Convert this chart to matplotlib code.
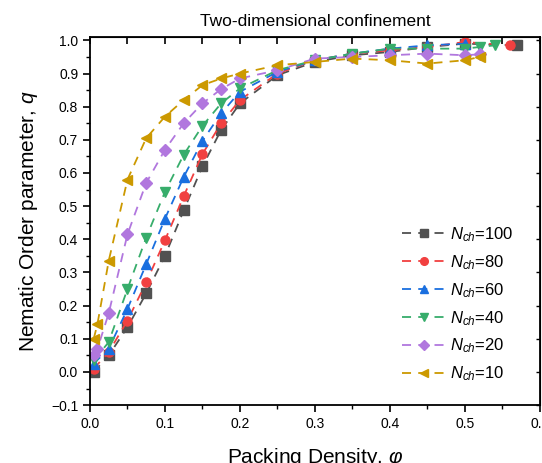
import matplotlib
matplotlib.use("Agg")
import matplotlib.pyplot as plt
from matplotlib.ticker import MultipleLocator, NullFormatter

plt.rcParams['font.family'] = ['Liberation Sans', 'DejaVu Sans']
plt.rcParams['mathtext.fontset'] = 'custom'
plt.rcParams['mathtext.rm'] = 'Liberation Sans'
plt.rcParams['mathtext.it'] = 'Liberation Sans:italic'

labels = ["100", "80", "60", "40", "20", "10"]
colors = ["#515151", "#F14040", "#1A6FDF", "#37AD6B", "#B177DE", "#CC9900"]
markers = ["s", "o", "^", "v", "D", "<"]

x_100 = [0.005, 0.025, 0.05, 0.075, 0.1, 0.125, 0.15, 0.175, 0.2, 0.25, 0.3, 0.35, 0.4, 0.45, 0.5, 0.57]
q_100 = [0.0, 0.05, 0.135, 0.237, 0.35, 0.487, 0.62, 0.73, 0.81, 0.895, 0.935, 0.955, 0.965, 0.98, 0.99, 0.985]

x_80 = [0.005, 0.025, 0.05, 0.075, 0.1, 0.125, 0.15, 0.175, 0.2, 0.25, 0.3, 0.35, 0.4, 0.45, 0.5, 0.56]
q_80 = [0.01, 0.06, 0.155, 0.27, 0.397, 0.53, 0.657, 0.75, 0.82, 0.9, 0.94, 0.96, 0.97, 0.98, 0.995, 0.985]

x_60 = [0.005, 0.025, 0.05, 0.075, 0.1, 0.125, 0.15, 0.175, 0.2, 0.25, 0.3, 0.35, 0.4, 0.45, 0.5]
q_60 = [0.025, 0.07, 0.19, 0.325, 0.462, 0.588, 0.697, 0.78, 0.845, 0.905, 0.94, 0.96, 0.975, 0.985, 0.99]

x_40 = [0.005, 0.025, 0.05, 0.075, 0.1, 0.125, 0.15, 0.175, 0.2, 0.25, 0.3, 0.35, 0.4, 0.45, 0.5, 0.52, 0.54]
q_40 = [0.035, 0.09, 0.25, 0.405, 0.543, 0.655, 0.742, 0.81, 0.855, 0.91, 0.94, 0.96, 0.975, 0.975, 0.975, 0.98, 0.985]

x_20 = [0.005, 0.01, 0.025, 0.05, 0.075, 0.1, 0.125, 0.15, 0.175, 0.2, 0.25, 0.3, 0.35, 0.4, 0.45, 0.5, 0.52]
q_20 = [0.05, 0.07, 0.177, 0.415, 0.57, 0.67, 0.75, 0.81, 0.853, 0.885, 0.91, 0.945, 0.95, 0.955, 0.96, 0.955, 0.958]

x_10 = [0.005, 0.01, 0.025, 0.05, 0.075, 0.1, 0.125, 0.15, 0.175, 0.2, 0.25, 0.3, 0.35, 0.4, 0.45, 0.5, 0.52]
q_10 = [0.1, 0.145, 0.335, 0.58, 0.705, 0.77, 0.82, 0.865, 0.885, 0.9, 0.925, 0.935, 0.945, 0.94, 0.93, 0.94, 0.95]

xs = [x_100, x_80, x_60, x_40, x_20, x_10]
qs = [q_100, q_80, q_60, q_40, q_20, q_10]

fig = plt.figure(figsize=(5.42, 4.63), dpi=100)
ax = fig.add_axes([0.166, 0.125, 0.83, 0.795])

for x, q, lab, c, m in zip(xs, qs, labels, colors, markers):
    ax.plot(x, q, linestyle=(0, (5, 4)), color=c, marker=m, markersize=6.5,
            linewidth=1.3, label=r"$N_{ch}$=" + lab)

ax.set_xlim(0, 0.6)
ax.set_ylim(-0.1, 1.01)
ax.xaxis.set_major_locator(MultipleLocator(0.1))
ax.xaxis.set_minor_locator(MultipleLocator(0.05))
ax.yaxis.set_major_locator(MultipleLocator(0.1))
ax.yaxis.set_minor_locator(MultipleLocator(0.05))
ax.tick_params(which='major', direction='out', length=5, width=1.2, labelsize=10)
ax.tick_params(which='minor', direction='out', length=3, width=1.0)
for s in ax.spines.values():
    s.set_linewidth(1.3)

# mirrored axes, ticks pointing in
top = ax.secondary_xaxis('top')
top.xaxis.set_major_locator(MultipleLocator(0.05))
top.xaxis.set_major_formatter(NullFormatter())
top.tick_params(direction='in', length=5, width=1.2)
right = ax.secondary_yaxis('right')
right.yaxis.set_major_locator(MultipleLocator(0.1))
right.yaxis.set_major_formatter(NullFormatter())
right.tick_params(direction='in', length=3, width=1.0)

ax.set_title("Two-dimensional confinement", fontsize=12.5, pad=8)
ax.set_xlabel(r"Packing Density, $\varphi$", fontsize=15, labelpad=11)
ax.set_ylabel(r"Nematic Order parameter, $q$", fontsize=15, labelpad=8)

ax.legend(loc='center left', bbox_to_anchor=(0.66, 0.274), frameon=False,
          fontsize=12, handlelength=2.6, labelspacing=0.55, handletextpad=0.3,
          markerscale=0.85)

fig.savefig("out.png", dpi=100)
